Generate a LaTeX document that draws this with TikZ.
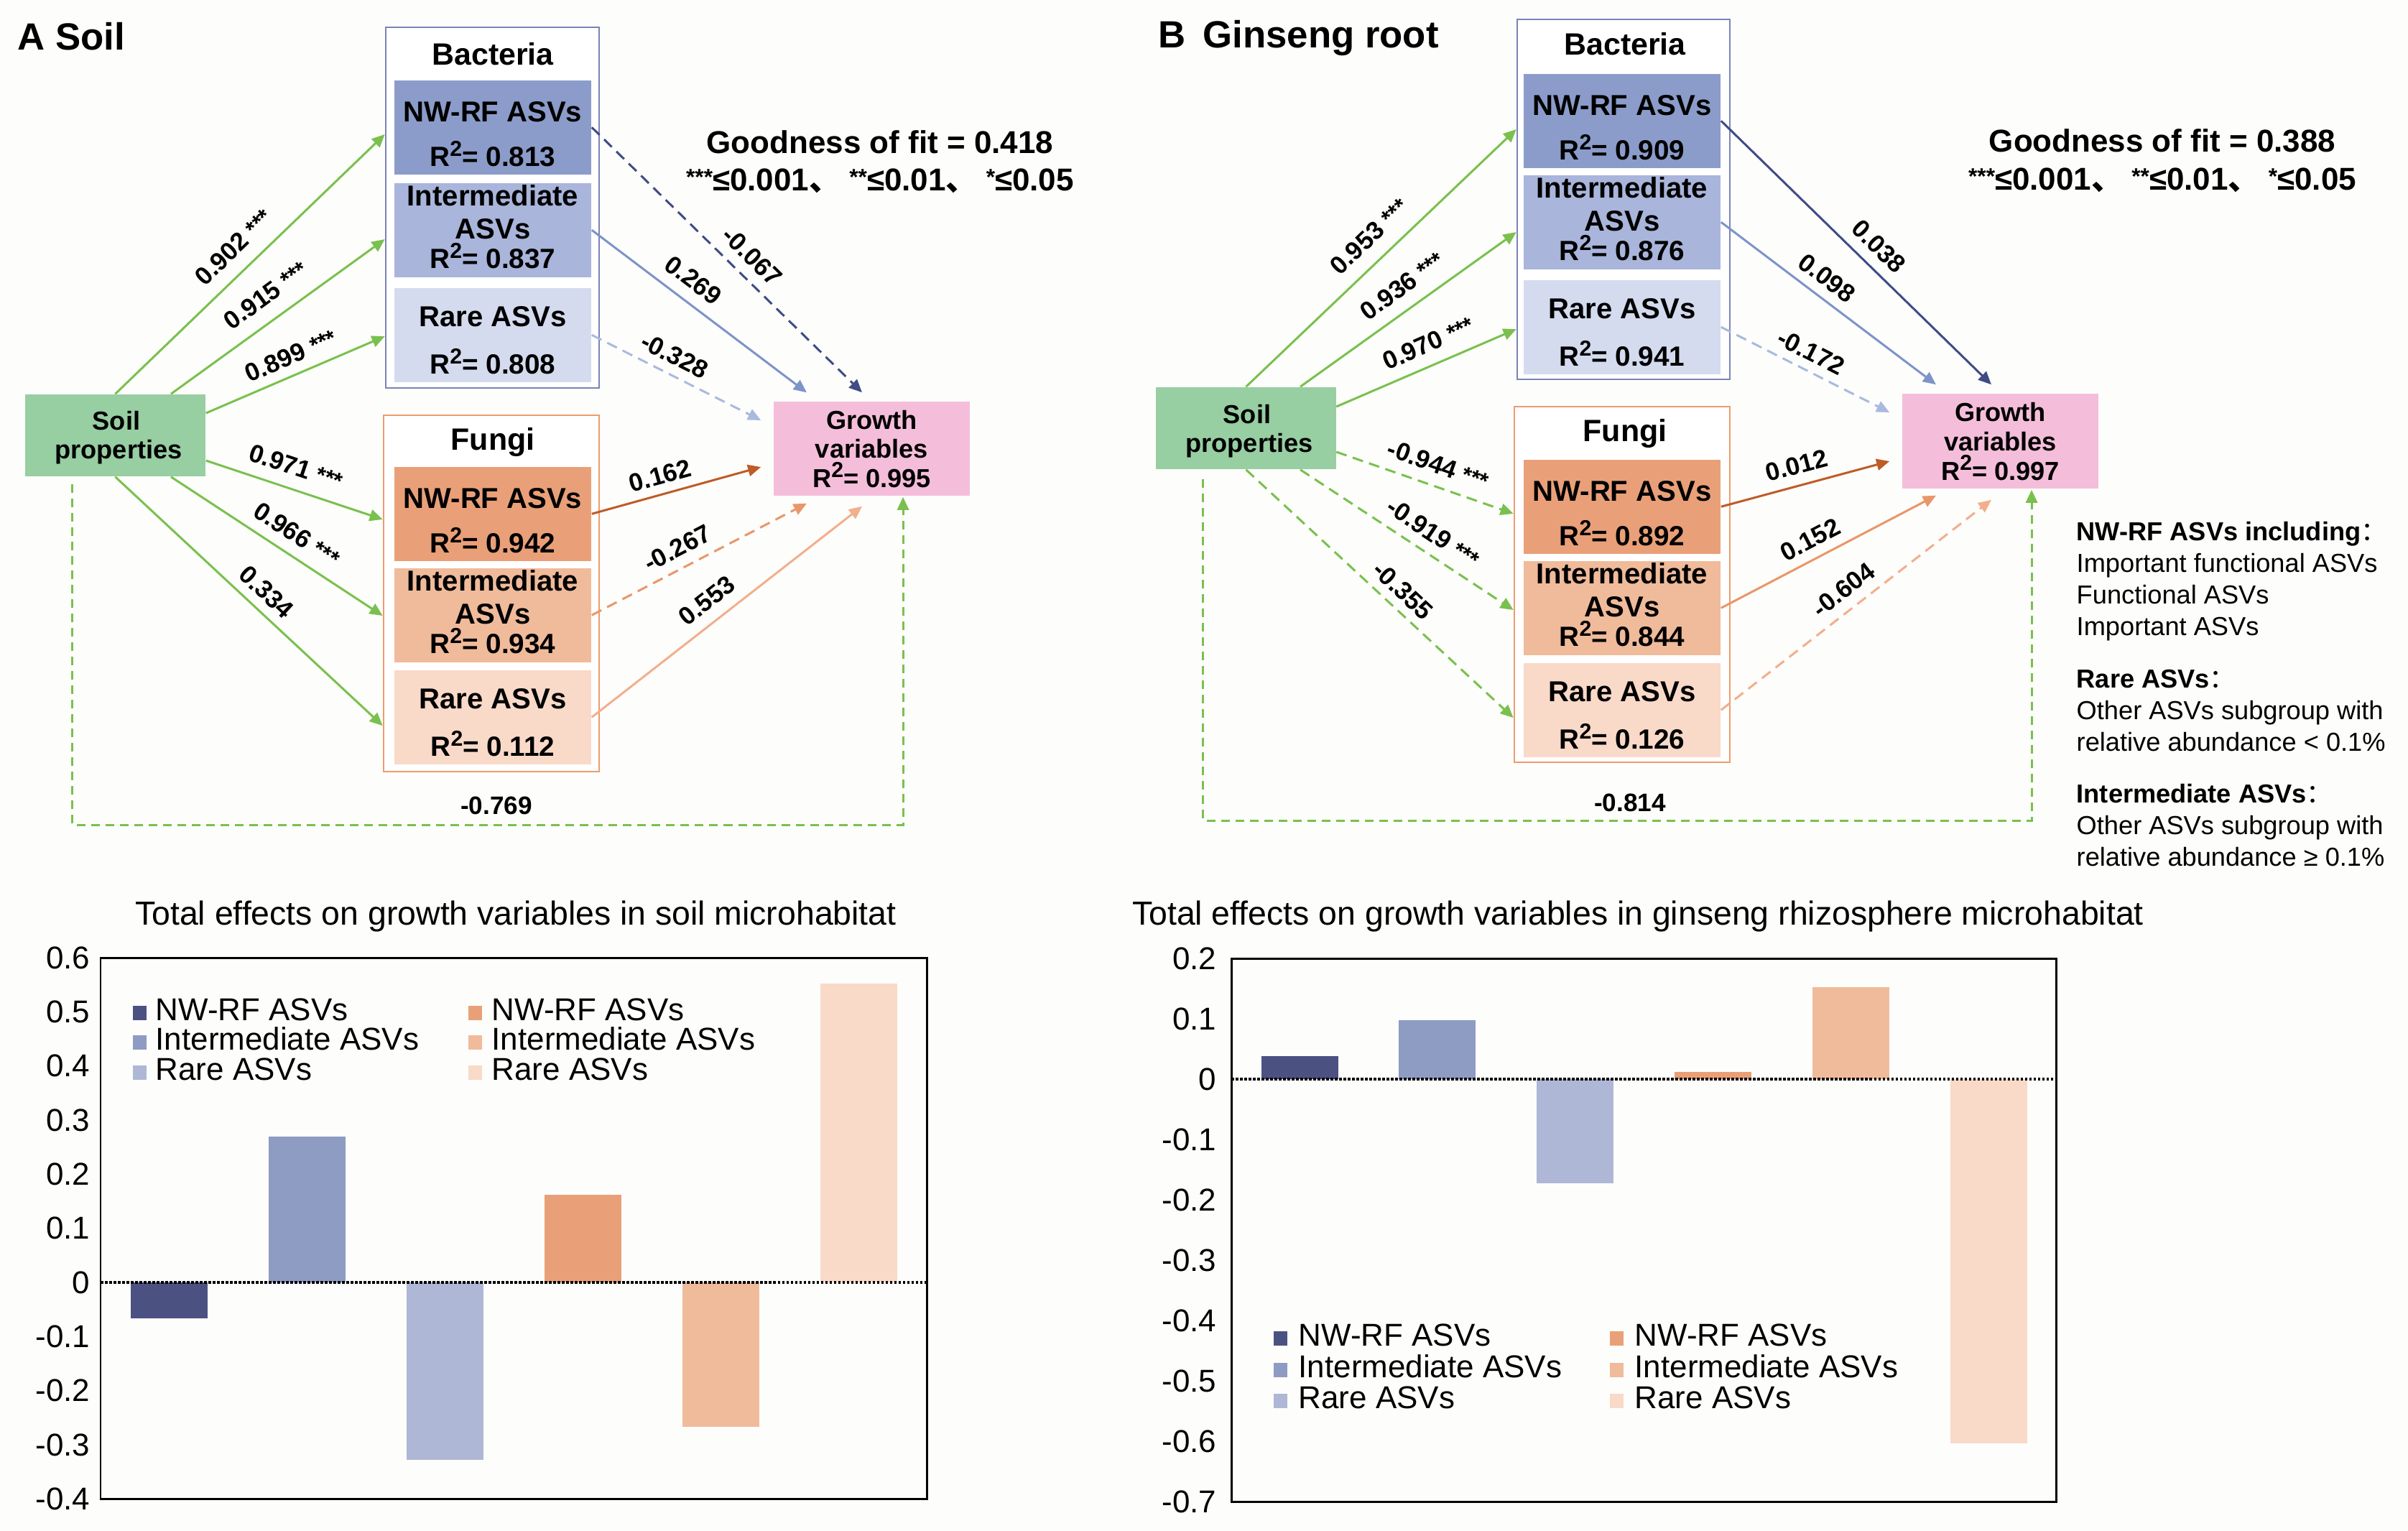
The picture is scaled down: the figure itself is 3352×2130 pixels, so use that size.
\documentclass[tikz,border=0pt]{standalone}
\usepackage{fontspec}
\setmainfont{Liberation Sans}
\newfontfamily\cjk{Noto Sans CJK SC}
\usetikzlibrary{arrows.meta}
\newcommand\fsz[1]{\fontsize{#1}{#1}\selectfont}
\newcommand\sigst[1]{{\fsz{9}\raisebox{0.4pt}{#1}}}
\newcommand\gstars[1]{{\fsz{9}\raisebox{2.2pt}{#1}}}
\newcommand\rsq{R\raisebox{0.36em}{\fsz{8.6}2}}
\definecolor{bgc}{HTML}{FDFDFB}
\definecolor{gr}{HTML}{7AC04E}
\definecolor{soilc}{HTML}{97CEA2}
\definecolor{pinkc}{HTML}{F4BEDB}
\definecolor{bnwc}{HTML}{8B9CCA}
\definecolor{bintc}{HTML}{A9B5DA}
\definecolor{brarec}{HTML}{D4DBEE}
\definecolor{fnwc}{HTML}{E9A078}
\definecolor{fintc}{HTML}{F0BB9B}
\definecolor{frarec}{HTML}{F9D9C8}
\definecolor{bframe}{HTML}{7B83B5}
\definecolor{fframe}{HTML}{EE9B70}
\definecolor{anw}{HTML}{404C85}
\definecolor{aint}{HTML}{7E93C9}
\definecolor{arare}{HTML}{A9B9E0}
\definecolor{afnw}{HTML}{BE5B27}
\definecolor{afint}{HTML}{EA966A}
\definecolor{afrare}{HTML}{F2AF8D}
\definecolor{barnw}{HTML}{4B5282}
\definecolor{barint}{HTML}{8E9BC3}
\definecolor{barrare}{HTML}{AEB7D6}

\newcommand\boxNW[5]{%
  \node[ibx, fill=#4] (#1) at (#2,#3) {};
  \node[boxt] (#1t) at (#2,#3+58) {NW-RF ASVs};
  \node[r2t] (#1r) at (#2,#3+120) {\rsq= #5};}
\newcommand\boxIN[5]{%
  \node[ibx, fill=#4] (#1) at (#2,#3) {};
  \node[boxt] (#1t) at (#2,#3+32) {Intermediate};
  \node[boxt] (#1u) at (#2,#3+78) {ASVs};
  \node[r2t] (#1r) at (#2,#3+119) {\rsq= #5};}
\newcommand\boxRA[5]{%
  \node[ibx, fill=#4] (#1) at (#2,#3) {};
  \node[boxt] (#1t) at (#2,#3+54) {Rare ASVs};
  \node[r2t] (#1r) at (#2,#3+120) {\rsq= #5};}

\begin{document}
\begin{tikzpicture}[x=0.01cm,y=-0.01cm,
  arrtip/.style={-{Triangle[length=0.18cm,width=0.16cm]}},
  garr/.style={draw=gr,line width=0.85pt,arrtip},
  carr/.style={line width=0.85pt,arrtip},
  dsh/.style={dash pattern=on 0.15cm off 0.09cm},
  dshb/.style={dash pattern=on 0.12cm off 0.08cm},
  frm/.style={fill=white,line width=0.7pt,inner sep=0pt},
  ibx/.style={inner sep=0pt,minimum width=2.74cm,minimum height=1.31cm,anchor=north},
  boxt/.style={font=\bfseries\fsz{11.4},anchor=base,inner sep=0pt},
  r2t/.style={font=\bfseries\fsz{11},anchor=base,inner sep=0pt},
  hdr/.style={font=\bfseries\fsz{12.2},anchor=base,inner sep=0pt},
  sbt/.style={font=\bfseries\fsz{10.3},anchor=base,inner sep=0pt},
  elab/.style={font=\bfseries\fsz{10},inner sep=0pt},
  gof/.style={font=\bfseries\fsz{12.5},anchor=base,inner sep=0pt},
  ptitle/.style={font=\bfseries\fsz{15},anchor=base west,inner sep=0pt},
  notet/.style={font=\fsz{10.3},anchor=base west,inner sep=0pt},
  notebf/.style={font=\bfseries\fsz{10.3},anchor=base west,inner sep=0pt},
  ctitle/.style={font=\fsz{13.2},anchor=base,inner sep=0pt},
  ticklab/.style={font=\fsz{12.5},anchor=east,inner sep=0pt},
  legt/.style={font=\fsz{12.5},anchor=west,inner sep=0pt},
  zline/.style={line width=1.2pt,dash pattern=on 0.035cm off 0.025cm},
  solidbox/.style={inner sep=0pt,draw=none}
]
\useasboundingbox (0,0) rectangle (3352,2130);
\fill[bgc] (0,0) rectangle (3352,2130);

%% ================= PANEL A =================
\node[ptitle] (titA) at (24,69) {A Soil};

\node[frm, draw=bframe, minimum width=2.97cm, minimum height=5.02cm] (bacA) at (685.5,289) {};
\node[frm, draw=fframe, minimum width=3.00cm, minimum height=4.96cm] (funA) at (684,826) {};
\node[hdr] (bacAt) at (686,90) {Bacteria};
\node[hdr] (funAt) at (686,626) {Fungi};

\boxNW{bnwA}{686}{111}{bnwc}{0.813}
\boxIN{bintA}{686}{254}{bintc}{0.837}
\boxRA{brareA}{686}{400}{brarec}{0.808}
\boxNW{fnwA}{686}{649}{fnwc}{0.942}
\boxIN{fintA}{686}{790}{fintc}{0.934}
\boxRA{frareA}{686}{932}{frarec}{0.112}

\node[solidbox, fill=soilc, minimum width=2.51cm, minimum height=1.14cm] (soilA) at (160.5,606) {};
\node[sbt] (soilAt1) at (162,598) {Soil};
\node[sbt] (soilAt2) at (165,638) {properties};

\node[solidbox, fill=pinkc, minimum width=2.73cm, minimum height=1.31cm] (gA) at (1213.5,624.5) {};
\node[sbt] (gAt1) at (1213.5,597) {Growth};
\node[sbt] (gAt2) at (1213.5,637) {variables};
\node[sbt] (gAt3) at (1213.5,678) {\rsq= 0.995};

\node[gof] (gofA1) at (1225,213) {Goodness of fit = 0.418};
\node[gof] (gofA2) at (1225,265) {\gstars{***}≤0.001{\cjk 、} \gstars{**}≤0.01{\cjk 、} \gstars{*}≤0.05};

% soil -> groups
\draw[garr] (soilA.north) -- ([yshift=1.02cm]bacA.west);
\draw[garr] ([xshift=0.775cm]soilA.north) -- ([yshift=-0.44cm]bacA.west);
\draw[garr] ([yshift=0.31cm]soilA.east) -- ([yshift=-1.79cm]bacA.west);
\draw[garr] ([yshift=-0.35cm]soilA.east) -- ([yshift=1.03cm]funA.west);
\draw[garr] ([xshift=0.775cm]soilA.south) -- ([yshift=-0.31cm]funA.west);
\draw[garr] (soilA.south) -- ([yshift=-1.84cm]funA.west);

% groups -> growth
\draw[carr, anw, dsh] (bnwA.east) -- ([xshift=-0.135cm,yshift=0.12cm]gA.north);
\draw[carr, aint] (bintA.east) -- ([xshift=-0.905cm,yshift=0.12cm]gA.north);
\draw[carr, arare, dsh] (brareA.east) -- ([xshift=-0.17cm,yshift=0.395cm]gA.west);
\draw[carr, afnw] (fnwA.east) -- ([xshift=-0.17cm,yshift=-0.255cm]gA.west);
\draw[carr, afint, dsh] (fintA.east) -- ([xshift=-0.905cm,yshift=-0.1cm]gA.south);
\draw[carr, afrare] (frareA.east) -- ([xshift=-0.135cm,yshift=-0.14cm]gA.south);

% direct path
\coordinate (dAs) at ([xshift=-0.595cm,yshift=-0.1cm]soilA.south);
\coordinate (dAe) at ([xshift=0.435cm,yshift=-0.01cm]gA.south);
\coordinate (dAb) at (0,1148);
\draw[garr, dshb] (dAs) -- (dAs |- dAb) -- (dAe |- dAb) -- (dAe);
\node[elab] (lA0) at (691,1121) {-0.769};

% edge labels
\node[elab, rotate=44.1] (lA1) at (325,344) {0.902 \sigst{***}};
\node[elab, rotate=35.9] (lA2) at (370,411) {0.915 \sigst{***}};
\node[elab, rotate=23.3] (lA3) at (405,495) {0.899 \sigst{***}};
\node[elab, rotate=-18.5] (lA4) at (412,650) {0.971 \sigst{***}};
\node[elab, rotate=-33.4] (lA5) at (413,744) {0.966 \sigst{***}};
\node[elab, rotate=-43] (lA6) at (371,824) {0.334};
\node[elab, rotate=-44.5] (lA7) at (1047,357) {-0.067};
\node[elab, rotate=-37.1] (lA8) at (965,390) {0.269};
\node[elab, rotate=-26.9] (lA9) at (939,495) {-0.328};
\node[elab, rotate=15.3] (lA10) at (919,662) {0.162};
\node[elab, rotate=27.5] (lA11) at (943,763) {-0.267};
\node[elab, rotate=38] (lA12) at (984,836) {0.553};

%% ================= PANEL B =================
\node[ptitle] (titB) at (1612,67) {B\hspace{0.45em}Ginseng root};

\node[frm, draw=bframe, minimum width=2.96cm, minimum height=5.01cm] (bacB) at (2260,277.5) {};
\node[frm, draw=fframe, minimum width=3.00cm, minimum height=4.95cm] (funB) at (2258,813.5) {};
\node[hdr] (bacBt) at (2262,77) {Bacteria};
\node[hdr] (funBt) at (2262,614) {Fungi};

\boxNW{bnwB}{2258}{102}{bnwc}{0.909}
\boxIN{bintB}{2258}{243}{bintc}{0.876}
\boxRA{brareB}{2258}{389}{brarec}{0.941}
\boxNW{fnwB}{2258}{639}{fnwc}{0.892}
\boxIN{fintB}{2258}{780}{fintc}{0.844}
\boxRA{frareB}{2258}{922}{frarec}{0.126}

\node[solidbox, fill=soilc, minimum width=2.5cm, minimum height=1.14cm] (soilB) at (1734.5,596) {};
\node[sbt] (soilBt1) at (1736,589) {Soil};
\node[sbt] (soilBt2) at (1739,629) {properties};

\node[solidbox, fill=pinkc, minimum width=2.73cm, minimum height=1.32cm] (gB) at (2784.5,614) {};
\node[sbt] (gBt1) at (2784.5,586) {Growth};
\node[sbt] (gBt2) at (2784.5,627) {variables};
\node[sbt] (gBt3) at (2784.5,668) {\rsq= 0.997};

\node[gof] (gofB1) at (3010,211) {Goodness of fit = 0.388};
\node[gof] (gofB2) at (3010,264) {\gstars{***}≤0.001{\cjk 、} \gstars{**}≤0.01{\cjk 、} \gstars{*}≤0.05};

\draw[garr] (soilB.north) -- ([yshift=0.975cm]bacB.west);
\draw[garr] ([xshift=0.755cm]soilB.north) -- ([yshift=-0.455cm]bacB.west);
\draw[garr] ([yshift=0.30cm]soilB.east) -- ([yshift=-1.805cm]bacB.west);
\draw[garr, dsh] ([yshift=-0.33cm]soilB.east) -- ([yshift=0.985cm]funB.west);
\draw[garr, dsh] ([xshift=0.755cm]soilB.south) -- ([yshift=-0.355cm]funB.west);
\draw[garr, dsh] (soilB.south) -- ([yshift=-1.855cm]funB.west);

\draw[carr, anw] (bnwB.east) -- ([xshift=-0.125cm,yshift=0.12cm]gB.north);
\draw[carr, aint] (bintB.east) -- ([xshift=-0.895cm,yshift=0.12cm]gB.north);
\draw[carr, arare, dsh] (brareB.east) -- ([xshift=-0.17cm,yshift=0.40cm]gB.west);
\draw[carr, afnw] (fnwB.east) -- ([xshift=-0.17cm,yshift=-0.28cm]gB.west);
\draw[carr, afint] (fintB.east) -- ([xshift=-0.895cm,yshift=-0.09cm]gB.south);
\draw[carr, afrare, dsh] (frareB.east) -- ([xshift=-0.125cm,yshift=-0.15cm]gB.south);

\coordinate (dBs) at ([xshift=-0.595cm,yshift=-0.13cm]soilB.south);
\coordinate (dBe) at ([xshift=0.435cm,yshift=-0.01cm]gB.south);
\coordinate (dBb) at (0,1142);
\draw[garr, dshb] (dBs) -- (dBs |- dBb) -- (dBe |- dBb) -- (dBe);
\node[elab] (lB0) at (2269,1117) {-0.814};

\node[elab, rotate=43.8] (lB1) at (1906,329) {0.953 \sigst{***}};
\node[elab, rotate=35.9] (lB2) at (1952,398) {0.936 \sigst{***}};
\node[elab, rotate=23.5] (lB3) at (1988,478) {0.970 \sigst{***}};
\node[elab, rotate=-19.4] (lB4) at (2002,647) {-0.944 \sigst{***}};
\node[elab, rotate=-33.8] (lB5) at (1995,742) {-0.919 \sigst{***}};
\node[elab, rotate=-43.2] (lB6) at (1953,822) {-0.355};
\node[elab, rotate=-44.4] (lB7) at (2615,343) {0.038};
\node[elab, rotate=-37.1] (lB8) at (2543,387) {0.098};
\node[elab, rotate=-26.8] (lB9) at (2521,490) {-0.172};
\node[elab, rotate=14.7] (lB10) at (2501,648) {0.012};
\node[elab, rotate=27.6] (lB11) at (2520,751) {0.152};
\node[elab, rotate=37.8] (lB12) at (2566,821) {-0.604};

% notes
\node[notebf] (n1) at (2890,752) {NW-RF ASVs including{\cjk\mdseries ：}};
\node[notet] (n2) at (2890,796) {Important functional ASVs};
\node[notet] (n3) at (2890,840) {Functional ASVs};
\node[notet] (n4) at (2890,884) {Important ASVs};
\node[notebf] (n5) at (2890,957) {Rare ASVs{\cjk\mdseries ：}};
\node[notet] (n6) at (2890,1001) {Other ASVs subgroup with};
\node[notet] (n7) at (2890,1045) {relative abundance < 0.1\%};
\node[notebf] (n8) at (2890,1117) {Intermediate ASVs{\cjk\mdseries ：}};
\node[notet] (n9) at (2890,1161) {Other ASVs subgroup with};
\node[notet] (n10) at (2890,1205) {relative abundance ≥ 0.1\%};

%% ================= BAR CHART A =================
\node[ctitle] (ctA) at (718,1287) {Total effects on growth variables in soil microhabitat};
\foreach \xc/\val/\col in {235/-0.067/barnw, 427/0.269/barint, 619/-0.328/barrare, 811/0.162/fnwc, 1003/-0.267/fintc, 1195/0.553/frarec}
  \fill[\col] (\xc-53.5,1785) rectangle (\xc+53.5,{1785-753*(\val)});
\draw[zline] (140,1785) -- (1290,1785);
\draw[line width=0.85pt] (140,1333) rectangle (1290,2086);
\foreach \v [count=\i] in {0.6,0.5,0.4,0.3,0.2,0.1,0,-0.1,-0.2,-0.3,-0.4}
  \node[ticklab] (tA\i) at (126,{1785-753*(\v)}) {\v};
\foreach \yy/\txt/\col [count=\i] in {1405/NW-RF ASVs/barnw, 1446/Intermediate ASVs/barint, 1488/Rare ASVs/barrare}{
  \fill[\col] (185,\yy-5) rectangle (204,\yy+15);
  \node[legt] (lgA\i) at (216,\yy) {\txt};}
\foreach \yy/\txt/\col [count=\i] in {1405/NW-RF ASVs/fnwc, 1446/Intermediate ASVs/fintc, 1488/Rare ASVs/frarec}{
  \fill[\col] (652,\yy-5) rectangle (671,\yy+15);
  \node[legt] (lgAf\i) at (684,\yy) {\txt};}

%% ================= BAR CHART B =================
\node[ctitle] (ctB) at (2280,1287) {Total effects on growth variables in ginseng rhizosphere microhabitat};
\foreach \xc/\val/\col in {1809/0.038/barnw, 2000/0.098/barint, 2192/-0.172/barrare, 2384/0.012/fnwc, 2576/0.152/fintc, 2768/-0.604/frarec}
  \fill[\col] (\xc-53.5,1502) rectangle (\xc+53.5,{1502-840*(\val)});
\draw[zline] (1714,1502) -- (2862,1502);
\draw[line width=0.85pt] (1714,1334) rectangle (2862,2090);
\foreach \v [count=\i] in {0.2,0.1,0,-0.1,-0.2,-0.3,-0.4,-0.5,-0.6,-0.7}
  \node[ticklab] (tB\i) at (1694,{1502-840*(\v)}) {\v};
\foreach \yy/\txt/\col [count=\i] in {1858/NW-RF ASVs/barnw, 1902/Intermediate ASVs/barint, 1945/Rare ASVs/barrare}{
  \fill[\col] (1773,\yy-5) rectangle (1792,\yy+15);
  \node[legt] (lgB\i) at (1807,\yy) {\txt};}
\foreach \yy/\txt/\col [count=\i] in {1858/NW-RF ASVs/fnwc, 1902/Intermediate ASVs/fintc, 1945/Rare ASVs/frarec}{
  \fill[\col] (2241,\yy-5) rectangle (2260,\yy+15);
  \node[legt] (lgBf\i) at (2275,\yy) {\txt};}
\end{tikzpicture}
\end{document}
